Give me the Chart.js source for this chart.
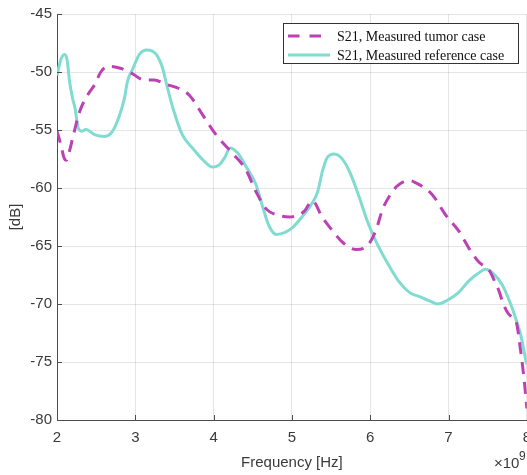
<!DOCTYPE html>
<html lang="en">
<head>
    <meta charset="UTF-8">
    <title>S21 measured</title>
    <script src="https://cdn.jsdelivr.net/npm/chart.js"></script>
    <style>
        html, body { margin: 0; padding: 0; overflow: hidden; background: #fff; }
        #wrap { position: absolute; left: 0; top: 0; width: 540px; height: 475px; }
    </style>
</head>
<body>
    <div id="wrap"><canvas id="s21Chart" width="540" height="475"></canvas></div>

    <script>
        // frequency in units of 1e9 Hz, S21 in dB
        const freqTumor = [2.00, 2.05, 2.09, 2.12, 2.16, 2.20, 2.29, 2.39, 2.48, 2.56, 2.65, 2.82, 2.95, 3.12, 3.24, 3.41, 3.55, 3.69, 3.86, 4.03,
                           4.24, 4.41, 4.54, 4.67, 4.80, 4.97, 5.05, 5.16, 5.26, 5.39, 5.52, 5.65, 5.82, 5.96, 6.07, 6.16, 6.26, 6.35, 6.50, 6.58,
                           6.79, 6.96, 7.13, 7.28, 7.39, 7.52, 7.60, 7.64, 7.70, 7.76, 7.82, 7.87, 7.92, 7.97, 8.00];
        const s21Tumor = [-55.1, -56.3, -57.4, -57.6, -56.8, -55.7, -53.4, -52.0, -51.1, -50.0, -49.5, -49.7, -50.1, -50.7, -50.7, -51.1, -51.4, -52.0, -53.7, -55.4,
                          -57.0, -58.4, -60.3, -61.8, -62.3, -62.5, -62.4, -62.0, -61.1, -62.55, -63.7, -64.7, -65.3, -65.0, -63.7, -61.8, -60.55, -59.8, -59.35, -59.55,
                          -60.55, -62.3, -63.7, -65.4, -66.4, -67.1, -68.2, -68.8, -70.0, -70.8, -71.2, -71.7, -74.0, -76.8, -79.0];

        const freqRef = [2.00, 2.05, 2.10, 2.13, 2.16, 2.20, 2.23, 2.27, 2.32, 2.37, 2.48, 2.61, 2.71, 2.80, 2.86, 2.90, 2.97, 3.05, 3.15, 3.27,
                         3.35, 3.39, 3.48, 3.60, 3.73, 3.86, 3.99, 4.07, 4.14, 4.21, 4.31, 4.41, 4.54, 4.63, 4.71, 4.80, 4.92, 5.01, 5.14, 5.26,
                         5.33, 5.39, 5.45, 5.54, 5.65, 5.75, 5.86, 5.96, 6.07, 6.24, 6.37, 6.50, 6.62, 6.75, 6.86, 6.98, 7.13, 7.26, 7.39, 7.47,
                         7.56, 7.69, 7.81, 7.86, 7.92, 7.98, 8.00];
        const s21Ref = [-50.3, -48.9, -48.5, -49.0, -50.8, -52.3, -53.1, -54.8, -55.1, -54.95, -55.4, -55.55, -55.1, -53.7, -52.3, -50.8, -49.7, -48.5, -48.1, -48.5,
                        -49.7, -50.8, -53.1, -55.4, -56.55, -57.55, -58.2, -58.0, -57.4, -56.55, -57.0, -58.1, -59.7, -61.7, -63.3, -64.0, -63.8, -63.4, -62.4, -61.3,
                        -60.3, -58.55, -57.4, -57.07, -57.55, -58.8, -60.8, -62.8, -64.55, -66.7, -68.1, -69.0, -69.35, -69.7, -70.0, -69.7, -69.0, -68.0, -67.3, -67.0,
                        -67.3, -68.4, -70.3, -71.3, -72.6, -74.6, -75.2];

        const xTicks = [2, 3, 4, 5, 6, 7, 8];
        const yTicks = [-45, -50, -55, -60, -65, -70, -75, -80];

        const tumorColor = '#bc41b4';
        const refColor = '#80dbd1';
        const axisColor = '#4d4d4d';
        const textColor = '#3a3a3a';
        const sansFont = '"Liberation Sans", Arial, sans-serif';
        const serifFont = '"Liberation Serif", "Times New Roman", serif';

        const toPoints = (xs, ys) => xs.map((x, i) => ({ x: x, y: ys[i] }));

        // inward ticks, legend box and the x10^9 exponent
        const matlabDecor = {
            id: 'matlabDecor',
            afterDatasetsDraw(chart) {
                const c = chart.ctx;
                const xs = chart.scales.x;
                const ys = chart.scales.y;
                const area = chart.chartArea;

                c.save();
                c.strokeStyle = axisColor;
                c.lineWidth = 1;
                xTicks.forEach(t => {
                    const px = Math.round(xs.getPixelForValue(t)) + 0.5;
                    c.beginPath();
                    c.moveTo(px, area.bottom);
                    c.lineTo(px, area.bottom - 5);
                    c.stroke();
                });
                yTicks.forEach(t => {
                    const py = Math.round(ys.getPixelForValue(t)) + 0.5;
                    c.beginPath();
                    c.moveTo(area.left, py);
                    c.lineTo(area.left + 5, py);
                    c.stroke();
                });

                // legend
                const bx = 283.5, by = 23.5, bw = 235, bh = 40;
                c.fillStyle = '#fff';
                c.fillRect(bx, by, bw, bh);
                c.strokeStyle = '#333';
                c.strokeRect(bx, by, bw, bh);
                const rows = [36, 55];
                chart.data.datasets.forEach((ds, i) => {
                    const dashed = !!ds.borderDash;
                    c.beginPath();
                    c.strokeStyle = ds.borderColor;
                    c.lineWidth = ds.borderWidth;
                    c.setLineDash(dashed ? [11.5, 10] : []);
                    c.moveTo(288, rows[i]);
                    c.lineTo(dashed ? 321 : 330, rows[i]);
                    c.stroke();
                    c.setLineDash([]);
                    c.fillStyle = '#111';
                    c.font = '14px ' + serifFont;
                    c.textBaseline = 'middle';
                    c.textAlign = 'left';
                    c.fillText(ds.label, 337, rows[i] + 1);
                });

                // exponent
                c.fillStyle = textColor;
                c.font = '15px ' + sansFont;
                c.textBaseline = 'alphabetic';
                c.textAlign = 'left';
                c.fillText('\u00d710', 494, 468);
                c.font = '12px ' + sansFont;
                c.fillText('9', 519, 460);
                c.restore();
            }
        };

        new Chart(document.getElementById('s21Chart'), {
            type: 'line',
            data: {
                datasets: [
                    {
                        label: 'S21, Measured tumor case',
                        data: toPoints(freqTumor, s21Tumor),
                        borderColor: tumorColor,
                        borderWidth: 3,
                        borderDash: [12, 8],
                        pointRadius: 0,
                        cubicInterpolationMode: 'monotone',
                        fill: false
                    },
                    {
                        label: 'S21, Measured reference case',
                        data: toPoints(freqRef, s21Ref),
                        borderColor: refColor,
                        borderWidth: 3,
                        pointRadius: 0,
                        cubicInterpolationMode: 'monotone',
                        fill: false
                    }
                ]
            },
            options: {
                responsive: false,
                animation: false,
                devicePixelRatio: 1,
                layout: { padding: { top: 12, right: 12, left: 0, bottom: 0 } },
                plugins: {
                    legend: { display: false },
                    tooltip: { enabled: false }
                },
                scales: {
                    x: {
                        type: 'linear',
                        min: 2,
                        max: 8,
                        afterBuildTicks: s => { s.ticks = xTicks.map(v => ({ value: v })); },
                        afterFit: s => { s.height = 55; },
                        grid: { color: 'rgba(38,38,38,0.12)', drawTicks: false },
                        border: { display: true, color: axisColor, width: 1 },
                        ticks: { color: textColor, font: { family: sansFont, size: 15 }, padding: 9, maxRotation: 0 },
                        title: {
                            display: true,
                            text: 'Frequency [Hz]',
                            color: textColor,
                            font: { family: sansFont, size: 15 },
                            padding: { top: 0, bottom: 3 }
                        }
                    },
                    y: {
                        min: -80,
                        max: -45,
                        afterBuildTicks: s => { s.ticks = yTicks.map(v => ({ value: v })); },
                        afterFit: s => { s.width = 57; },
                        grid: { color: 'rgba(38,38,38,0.12)', drawTicks: false },
                        border: { display: true, color: axisColor, width: 1 },
                        ticks: { color: textColor, font: { family: sansFont, size: 15 }, padding: 5 },
                        title: {
                            display: true,
                            text: '[dB]',
                            color: textColor,
                            font: { family: sansFont, size: 15 },
                            padding: { top: 7, bottom: 0 }
                        }
                    }
                }
            },
            plugins: [matlabDecor]
        });
    </script>
</body>
</html>
